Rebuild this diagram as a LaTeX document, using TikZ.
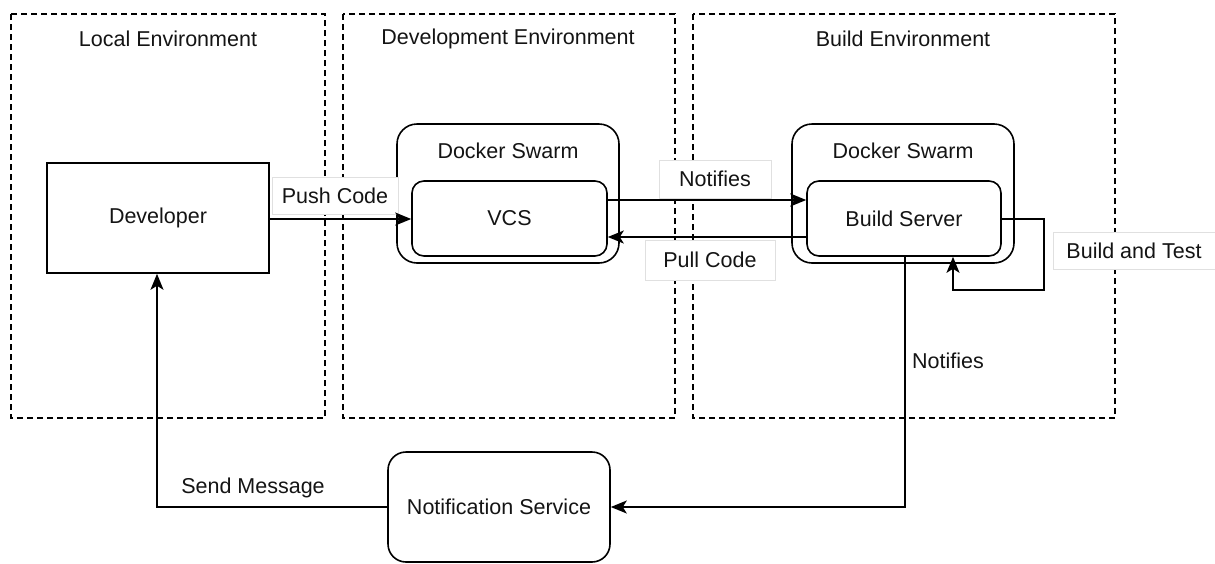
\documentclass[tikz,border=0pt]{standalone}
\usepackage{fontspec}
\setmainfont{Liberation Sans}
\usetikzlibrary{arrows.meta}
\begin{document}
\begin{tikzpicture}[x=1pt,y=-1pt,
  every node/.style={font=\fontsize{21.5}{25}\selectfont, text=black!92},
  env/.style={draw, line width=1.4pt, dash pattern=on 6pt off 4pt},
  plainbox/.style={draw, line width=1.6pt, rectangle, inner sep=0pt},
  outerbox/.style={draw, line width=1.6pt, rounded corners=20pt, inner sep=0pt},
  innerbox/.style={draw, line width=1.6pt, rounded corners=12pt, inner sep=0pt},
  conn/.style={line width=1.6pt, -{Stealth[length=16pt, width=13pt, inset=4pt]}},
  lbl/.style={draw=black!12, line width=0.8pt, fill=white, inner sep=0pt},
  ttl/.style={anchor=center}]
\useasboundingbox (0,0) rectangle (1215,563);
% environments
\draw[env] (11,14) rectangle (325,418);
\draw[env] (343,14) rectangle (675,418);
\draw[env] (693,14) rectangle (1115,418);
\node[ttl] (tl) at (168,39) {Local Environment};
\node[ttl] (td) at (508,39) {Development Environment};
\node[ttl] (tb) at (903,39) {Build Environment};
% boxes
\node[plainbox, minimum width=222pt, minimum height=110pt] (dev) at (158,218) {Developer};
\node[outerbox, minimum width=222pt, minimum height=139pt] (sw1) at (508,193.5) {};
\node (sw1t) at (508,151) {Docker Swarm};
\node[innerbox, minimum width=195pt, minimum height=75pt] (vcs) at (509.5,218.5) {VCS};
\node[outerbox, minimum width=222pt, minimum height=139pt] (sw2) at (903,193.5) {};
\node (sw2t) at (903,151) {Docker Swarm};
\node[innerbox, minimum width=194pt, minimum height=75pt] (bs) at (904,218.5) {Build Server};
\node[outerbox, rounded corners=18pt, minimum width=222pt, minimum height=110pt] (ns) at (499,507) {Notification Service};
% label boxes
\node[lbl, minimum width=126pt, minimum height=37pt] (lpush) at (335,196) {Push Code};
\node[lbl, minimum width=112pt, minimum height=38pt] (lnot) at (715,179) {Notifies};
\node[lbl, minimum width=130pt, minimum height=40pt] (lpull) at (710,260) {Pull Code};
\node[lbl, minimum width=162pt, minimum height=37pt] (lbt) at (1134,251) {Build and Test};
% connectors
\draw[conn] (dev.east |- 0,219) -- (vcs.west |- 0,219);
\draw[conn] (vcs.east |- 0,200) -- (bs.west |- 0,200);
\draw[conn] (bs.west |- 0,237) -- (vcs.east |- 0,237);
\coordinate (c1) at (1044,219);
\coordinate (c2) at (1044,290);
\coordinate (c3) at (953,290);
\draw[conn] (bs.east |- c1) -- (c1) -- (c2) -- (c3) -- (c3 |- bs.south);
\coordinate (c4) at (905,507);
\draw[conn] (bs.south -| c4) -- (c4) -- (ns.east);
\node (lnot2) at (948,361) {Notifies};
\coordinate (c5) at (157,507);
\draw[conn] (ns.west) -- (c5) -- (c5 |- dev.south);
\node (lsend) at (253,488) {Send Message};
\end{tikzpicture}
\end{document}
